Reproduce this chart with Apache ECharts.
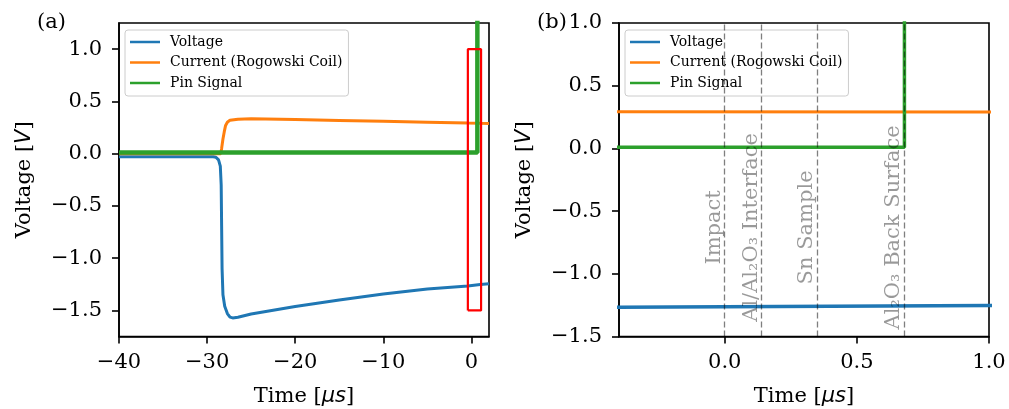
<!DOCTYPE html>
<html>
<head>
<meta charset="utf-8">
<script src="https://cdn.jsdelivr.net/npm/echarts@6/dist/echarts.min.js"></script>
<style>html,body{margin:0;padding:0;background:#fff}#c{width:1009px;height:409px}</style>
</head>
<body>
<div id="c"></div>
<script>
// ---- data ----
const voltTime = [-40, -29.3, -29.0, -28.7, -28.5, -28.4, -28.35, -28.3, -28.2, -28.0, -27.7, -27.4, -27.1, -26.5, -25, -20, -15, -10, -5, -0.4, 1.0, 2.0];
const voltage  = [-0.03, -0.03, -0.035, -0.06, -0.12, -0.3, -0.7, -1.1, -1.35, -1.46, -1.53, -1.565, -1.572, -1.565, -1.535, -1.462, -1.40, -1.343, -1.295, -1.266, -1.253, -1.245];
const currTime = [-40, -28.45, -28.35, -28.2, -28.05, -27.9, -27.7, -27.4, -26.5, -25, -20, -15, -10, -5, -0.4, 1.0, 2.0];
const current  = [0, 0, 0.05, 0.14, 0.21, 0.27, 0.30, 0.32, 0.33, 0.333, 0.326, 0.318, 0.31, 0.301, 0.292, 0.29, 0.289];
const pinTime  = [-40, -0.4, 0.68, 0.68];
const pinSignal = [0.01, 0.01, 0.01, 3.0];
const rectX = [-0.4, 1.1, 1.1, -0.4, -0.4];
const rectY = [-1.5, -1.5, 1.0, 1.0, -1.5];
const eventTimes  = [0.0, 0.14, 0.35, 0.68];
const eventLabels = ['Impact', 'Al/Al\u2082O\u2083 Interface', 'Sn Sample', 'Al\u2082O\u2083 Back Surface'];
const xTicksA = [-40, -30, -20, -10, 0];
const yTicksA = [-1.5, -1.0, -0.5, 0.0, 0.5, 1.0];
const xTicksB = [0.0, 0.5, 1.0];
const yTicksB = [-1.5, -1.0, -0.5, 0.0, 0.5, 1.0];
const seriesNames = ['Voltage', 'Current (Rogowski Coil)', 'Pin Signal'];

// ---- helpers ----
const zip = (xs, ys) => xs.map((x, i) => [x, ys[i]]);
const FONT = 'DejaVu Serif';
const FS = 21;
const fmt = d => v => { const s = d === 0 ? String(Math.round(v)) : v.toFixed(d); return s.replace('-', '\u2212'); };
const colors = ['#1f77b4', '#ff7f0e', '#2ca02c'];

function xAxis(gi, min, max, ticks, dec) {
  return {
    type: 'value', gridIndex: gi, min, max,
    name: 'Time [{i|\u03bcs}]', nameLocation: 'middle', nameGap: 50,
    nameTextStyle: { fontFamily: FONT, fontSize: FS, color: '#000',
      rich: { i: { fontFamily: 'DejaVu Sans', fontStyle: 'italic', fontSize: FS, color: '#000' } } },
    axisLine: { show: true, onZero: false, lineStyle: { color: '#000', width: 1.6 } },
    axisTick: { show: true, inside: false, length: 7, customValues: ticks, lineStyle: { color: '#000', width: 1.6 } },
    axisLabel: { customValues: ticks, formatter: fmt(dec), fontFamily: FONT, fontSize: FS, color: '#000', margin: 16 },
    splitLine: { show: false }
  };
}
function yAxis(gi, min, max, ticks) {
  return {
    type: 'value', gridIndex: gi, min, max,
    name: 'Voltage [{i|V}]', nameLocation: 'middle', nameGap: 84,
    nameTextStyle: { fontFamily: FONT, fontSize: FS, color: '#000',
      rich: { i: { fontFamily: 'DejaVu Sans', fontStyle: 'italic', fontSize: FS, color: '#000' } } },
    axisLine: { show: true, onZero: false, lineStyle: { color: '#000', width: 1.6 } },
    axisTick: { show: true, inside: false, length: 7, customValues: ticks, lineStyle: { color: '#000', width: 1.6 } },
    axisLabel: { customValues: ticks, formatter: fmt(1), fontFamily: FONT, fontSize: FS, color: '#000', margin: 17 },
    splitLine: { show: false }
  };
}
function legend(left) {
  return {
    data: seriesNames, orient: 'vertical', left, top: 30,
    icon: 'rect', itemWidth: 30, itemHeight: 2.5, itemGap: 6.5,
    padding: [5, 6, 6, 5],
    backgroundColor: 'rgba(255,255,255,0.8)', borderColor: '#cccccc', borderWidth: 1, borderRadius: 3,
    textStyle: { fontFamily: FONT, fontSize: 14, color: '#000', lineHeight: 14, padding: [0, 0, 0, 5] },
    selectedMode: false
  };
}
function lineSeries(name, xi, data, color, width, extra) {
  return Object.assign({
    name, type: 'line', xAxisIndex: xi, yAxisIndex: xi, data, showSymbol: false, symbol: 'none',
    color, lineStyle: { color, width }, clip: true, animation: false
  }, extra || {});
}

const gridBase = { top: 23, width: 370, height: 313.5, show: true, borderColor: '#000', borderWidth: 1.6,
  backgroundColor: 'transparent', containLabel: false, outerBoundsMode: 'none' };

const option = {
  animation: false,
  backgroundColor: '#fff',
  grid: [
    Object.assign({ left: 119 }, gridBase),
    Object.assign({ left: 619 }, gridBase)
  ],
  xAxis: [xAxis(0, -40, 2, xTicksA, 0), xAxis(1, -0.4, 1.0, xTicksB, 1)],
  yAxis: [yAxis(0, -1.75, 1.25, yTicksA), yAxis(1, -1.5, 1.0, yTicksB)],
  legend: [legend(125), legend(625)],
  graphic: [
    { type: 'text', left: 37, top: 12, style: { text: '(a)', font: FS + 'px "DejaVu Serif"', fill: '#000' } },
    { type: 'text', left: 537, top: 12, style: { text: '(b)', font: FS + 'px "DejaVu Serif"', fill: '#000' } }
  ],
  series: [
    lineSeries(seriesNames[0], 0, zip(voltTime, voltage), colors[0], 3),
    lineSeries(seriesNames[1], 0, zip(currTime, current), colors[1], 3),
    lineSeries(seriesNames[2], 0, zip(pinTime, pinSignal), colors[2], 4.5),
    lineSeries('zoom box', 0, zip(rectX, rectY), '#ff0000', 2.2, { z: 3 }),
    lineSeries(seriesNames[0], 1, zip(voltTime, voltage), colors[0], 3.5),
    lineSeries(seriesNames[1], 1, zip(currTime, current), colors[1], 3),
    lineSeries(seriesNames[2], 1, zip(pinTime, pinSignal), colors[2], 3.5, {
      markLine: {
        silent: true, symbol: ['none', 'none'], animation: false, z: 5,
        label: { show: false },
        lineStyle: { color: 'rgba(0,0,0,0.5)', type: [6, 3], width: 1.3 },
        data: eventTimes.map(t => ({ xAxis: t }))
      }
    }),
    {
      name: 'events', type: 'scatter', xAxisIndex: 1, yAxisIndex: 1, symbolSize: 0, silent: true, z: 6,
      data: eventTimes.map((t, i) => ({ value: [t, -0.63], name: eventLabels[i] })),
      label: {
        show: true, formatter: p => p.name, rotate: 90, position: [0, 0],
        align: 'center', verticalAlign: 'bottom',
        fontFamily: FONT, fontSize: FS, color: 'rgba(0,0,0,0.5)'
      }
    }
  ]
};
const chart = echarts.init(document.getElementById('c'), null, { renderer: 'canvas' });
chart.setOption(option);
</script>
</body>
</html>
